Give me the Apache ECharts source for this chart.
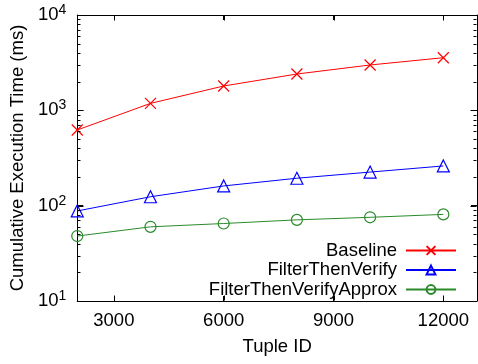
<!DOCTYPE html>
<html>
<head>
<meta charset="utf-8">
<script src="https://cdn.jsdelivr.net/npm/echarts@6/dist/echarts.min.js"></script>
<style>
  html, body {margin: 0; padding: 0; background: #fff;}
  #main {width: 478px; height: 364px;}
</style>
</head>
<body>
<div id="main"></div>
<script>
const tupleIds = [2000, 4000, 6000, 8000, 10000, 12000];
const baseline = [622, 1183, 1800, 2405, 2990, 3565];
const filterThenVerify = [88, 124, 161, 194, 225, 261];
const filterThenVerifyApprox = [48, 60, 65, 71, 75.5, 81];
const seriesNames = ['Baseline', 'FilterThenVerify', 'FilterThenVerifyApprox'];
const xTicks = [3000, 6000, 9000, 12000];
const yTicks = [10, 100, 1000, 10000];
const colors = ['#ff0000', '#0000ff', '#2a8a2a'];
const symbols = ['path://M0,0L10,10M10,0L0,10', 'triangle', 'circle'];

// gnuplot style log minor ticks 2..9 in every decade
const yMinor = [];
for (let d = 10; d < 10000; d *= 10) {
  for (let k = 2; k <= 9; k++) yMinor.push(d * k);
}

const font = 'Liberation Sans, Arial, Helvetica, sans-serif';
const fs = 18.5;
const xMin = 2000, xMax = 12920, yMin = 10, yMax = 10000;

const myChart = echarts.init(document.getElementById('main'));

const pairs = (ys) => tupleIds.map((x, i) => [x, ys[i]]);
const allData = [baseline, filterThenVerify, filterThenVerifyApprox];

const axisLine = {show: true, lineStyle: {color: '#000', width: 1}};
const innerTick = (values, len) => ({
  show: true, inside: true, length: len, customValues: values,
  lineStyle: {color: '#000', width: 1}
});

// mirrored inward ticks, like gnuplot's border ticks: [x, y, length, 0 = y tick / 1 = x tick]
const tickData = []
  .concat(yTicks.map(v => [xMin, v, 6, 0]))
  .concat(yMinor.map(v => [xMin, v, 3, 0]))
  .concat(xTicks.map(v => [v, yMin, 5, 1]));

const line = (x1, y1, x2, y2) => ({
  type: 'line',
  shape: {x1, y1, x2, y2},
  style: {stroke: '#000', lineWidth: 1}
});

const renderTick = (params, api) => {
  const cs = params.coordSys;
  const p = api.coord([api.value(0), api.value(1)]);
  const len = api.value(2);
  if (api.value(3) === 0) {
    const y = Math.round(p[1]) + 0.5;
    const l = Math.round(cs.x) + 0.5, r = Math.round(cs.x + cs.width) - 0.5;
    return {type: 'group', children: [line(l, y, l + len, y), line(r - len, y, r, y)]};
  }
  const x = Math.round(p[0]) + 0.5;
  const t = Math.round(cs.y) + 0.5, b = Math.round(cs.y + cs.height) - 0.5;
  return {type: 'group', children: [line(x, b, x, b - len), line(x, t, x, t + len)]};
};

myChart.setOption({
  animation: false,
  grid: {left: 73, right: 1, top: 15, bottom: 63},
  xAxis: [
    {
      type: 'value', min: xMin, max: xMax, splitLine: {show: false},
      axisLine, axisTick: innerTick(xTicks, 5),
      axisLabel: {
        color: '#000', fontSize: fs, fontFamily: font, margin: 10,
        customValues: xTicks,
        formatter: v => String(v)
      },
      name: 'Tuple ID', nameLocation: 'middle', nameGap: 36,
      nameTextStyle: {color: '#000', fontSize: fs, fontFamily: font}
    },
    {
      type: 'value', min: xMin, max: xMax, splitLine: {show: false},
      position: 'top', axisLine, axisTick: innerTick(xTicks, 5), axisLabel: {show: false}
    }
  ],
  yAxis: [
    {
      type: 'log', logBase: 10, min: yMin, max: yMax, splitLine: {show: false},
      axisLine, axisTick: innerTick(yTicks, 6),
      axisLabel: {
        color: '#000', fontFamily: font, margin: 11,
        customValues: yTicks,
        formatter: v => '{b|10}{s|' + Math.round(Math.log10(v)) + '}',
        rich: {
          b: {fontSize: fs, fontFamily: font, color: '#000'},
          s: {fontSize: 14, fontFamily: font, color: '#000', padding: [0, 0, 10, 0]}
        }
      },
      name: 'Cumulative Execution Time (ms)', nameLocation: 'middle', nameGap: 44,
      nameTextStyle: {color: '#000', fontSize: fs, fontFamily: font}
    },
    {
      type: 'log', logBase: 10, min: yMin, max: yMax, splitLine: {show: false},
      position: 'right', axisLine, axisTick: innerTick(yTicks, 6), axisLabel: {show: false}
    }
  ],
  legend: seriesNames.map((name, i) => ({
    data: [name],
    right: 21,
    top: 241 + i * 19.5,
    align: 'right',
    itemWidth: 50,
    itemHeight: 11,
    itemGap: 8,
    padding: 0,
    textStyle: {color: '#000', fontSize: fs, fontFamily: font, padding: [0, 4, 0, 0]}
  })),
  series: seriesNames.map((name, i) => ({
    name,
    type: 'line',
    data: pairs(allData[i]),
    symbol: symbols[i],
    symbolSize: i === 1 ? 12 : 11,
    showAllSymbol: true,
    lineStyle: {color: colors[i], width: 1, type: 'solid'},
    itemStyle: {
      color: i === 0 ? colors[i] : 'rgba(255,255,255,0)',
      borderColor: colors[i], borderWidth: 1.2
    }
  })).concat([{
    name: 'ticks',
    type: 'custom',
    silent: true,
    clip: false,
    z: 5,
    data: tickData,
    renderItem: renderTick
  }])
});
</script>
</body>
</html>
